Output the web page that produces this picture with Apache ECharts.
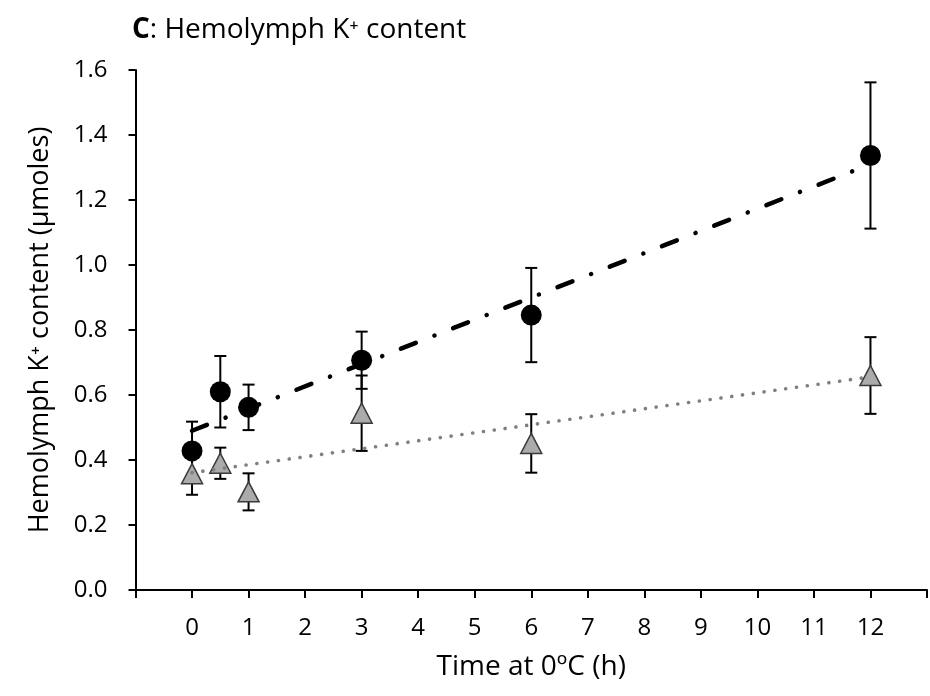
<!DOCTYPE html>
<html>
<head>
<meta charset="utf-8">
<script src="https://cdn.jsdelivr.net/npm/echarts@6/dist/echarts.min.js"></script>
<style>html,body{margin:0;padding:0;background:#fff}#c{width:930px;height:696px}</style>
</head>
<body>
<div id="c"></div>
<script>
// Data
const times = [0, 0.5, 1, 3, 6, 12];
const circleMean = [0.428, 0.61, 0.562, 0.707, 0.846, 1.337];
const circleErr = [0.09, 0.11, 0.07, 0.088, 0.145, 0.225];
const triMean = [0.358, 0.39, 0.302, 0.544, 0.451, 0.66];
const triErr = [0.065, 0.048, 0.057, 0.116, 0.09, 0.118];
const trendX = [0, 12];
const circleTrendY = [0.49, 1.31];
const triTrendY = [0.361, 0.656];
const xTickLabels = ['0','1','2','3','4','5','6','7','8','9','10','11','12'];
const yTickLabels = ['0.0','0.2','0.4','0.6','0.8','1.0','1.2','1.4','1.6'];

const FONT = 'Open Sans';
const chart = echarts.init(document.getElementById('c'), null, {renderer: 'canvas'});

function errData(mean, err) {
  return times.map((t, i) => [t, mean[i] - err[i], mean[i] + err[i]]);
}
function errRender(params, api) {
  const x = api.value(0);
  const lo = api.coord([x, api.value(1)]);
  const hi = api.coord([x, api.value(2)]);
  const hw = 6;
  const st = {stroke: '#000', lineWidth: 2};
  return {
    type: 'group',
    children: [
      {type: 'line', shape: {x1: lo[0], y1: lo[1], x2: hi[0], y2: hi[1]}, style: st},
      {type: 'line', shape: {x1: lo[0] - hw, y1: lo[1], x2: lo[0] + hw, y2: lo[1]}, style: st},
      {type: 'line', shape: {x1: hi[0] - hw, y1: hi[1], x2: hi[0] + hw, y2: hi[1]}, style: st}
    ]
  };
}

const option = {
  animation: false,
  backgroundColor: '#fff',
  title: {
    left: 127, top: 11,
    text: '{b|C}{n|: Hemolymph K⁺ content}',
    textStyle: {
      fontFamily: FONT, fontSize: 28, fontWeight: 'normal', color: '#000',
      rich: {
        b: {fontFamily: FONT, fontSize: 28, fontWeight: 'bold', color: '#000'},
        n: {fontFamily: FONT, fontSize: 28, fontWeight: 'normal', color: '#000'}
      }
    }
  },
  grid: {left: 135.5, right: -12.5, top: 70, bottom: 106},
  xAxis: {
    type: 'value', min: -1, max: 13, interval: 1,
    name: 'Time at 0ºC (h)', nameLocation: 'middle', nameGap: 63,
    nameTextStyle: {fontFamily: FONT, fontSize: 28, color: '#000'},
    axisLine: {onZero: false, lineStyle: {color: '#000', width: 2}},
    axisTick: {length: 8, lineStyle: {color: '#000', width: 2}},
    axisLabel: {
      fontFamily: FONT, fontSize: 24, color: '#000', margin: 26,
      formatter: v => (v >= 0 && v <= 12 && Number.isInteger(v)) ? xTickLabels[v] : ''
    },
    splitLine: {show: false}
  },
  yAxis: {
    type: 'value', min: 0, max: 1.6, interval: 0.2,
    name: 'Hemolymph K⁺ content (µmoles)', nameLocation: 'middle', nameGap: 82, nameRotate: 90,
    nameTextStyle: {fontFamily: FONT, fontSize: 27, color: '#000'},
    axisLine: {onZero: false, lineStyle: {color: '#000', width: 2}},
    axisTick: {length: 7, lineStyle: {color: '#000', width: 2}},
    axisLabel: {
      fontFamily: FONT, fontSize: 24, color: '#000', margin: 28,
      formatter: v => yTickLabels[Math.round(v / 0.2)]
    },
    splitLine: {show: false}
  },
  series: [
    {type: 'custom', renderItem: errRender, data: errData(circleMean, circleErr), z: 1, encode: {x: 0, y: [1, 2]}, silent: true},
    {type: 'custom', renderItem: errRender, data: errData(triMean, triErr), z: 1, encode: {x: 0, y: [1, 2]}, silent: true},
    {
      type: 'scatter', symbol: 'circle', symbolSize: 21, z: 2,
      itemStyle: {color: '#000', opacity: 1},
      data: times.map((t, i) => [t, circleMean[i]])
    },
    {
      type: 'scatter', symbol: 'triangle', symbolSize: [21, 20], z: 2,
      itemStyle: {color: '#ababab', borderColor: '#3a3a3a', borderWidth: 1.5, opacity: 1},
      data: times.map((t, i) => [t, triMean[i]])
    },
    {
      type: 'line', showSymbol: false, symbol: 'none', z: 3, silent: true,
      lineStyle: {color: '#000', width: 4.5, type: [16, 20, 0.1, 20], cap: 'round'},
      data: trendX.map((t, i) => [t, circleTrendY[i]])
    },
    {
      type: 'line', showSymbol: false, symbol: 'none', z: 3, silent: true,
      lineStyle: {color: '#7f7f7f', width: 3.6, type: [0.1, 10.8], cap: 'round'},
      data: trendX.map((t, i) => [t, triTrendY[i]])
    }
  ]
};
chart.setOption(option);
</script>
</body>
</html>
